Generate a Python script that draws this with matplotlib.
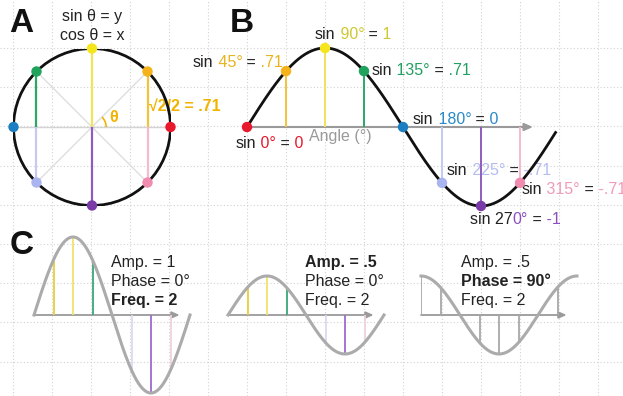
import numpy as np
import matplotlib
matplotlib.use("Agg")
import matplotlib.pyplot as plt
from matplotlib.patches import Circle, Arc

plt.rcParams['font.family'] = ['Liberation Sans', 'DejaVu Sans']

# ---------------- data ----------------
ANGLES = [0, 45, 90, 135, 180, 225, 270, 315]
POINT_COLORS = ['#e8192c', '#f5b21a', '#f5e61c', '#1fa35c', '#1b7ec2', '#aab4f0', '#7a3aa8', '#f08cb0']
LINE_COLORS = ['#e8192c', '#f2c33a', '#f0e45a', '#2aa866', '#1b7ec2', '#c6caf2', '#8e5cc0', '#f2bccf']
C_LINE_COLORS = ['#aaaaaa', '#e8cf3a', '#efe46a', '#3aa878', '#aaaaaa', '#dcdaf2', '#9a6ccc', '#f0d2dd']
C_AMPS = [1, 0.5, 0.5]
C_PHASES = [0, 0, 90]
C_FREQS = [2, 2, 2]

W, H = 623, 396
fig = plt.figure(figsize=(W / 100, H / 100), dpi=100)

# background grid
bg = fig.add_axes([0, 0, 1, 1])
bg.set_xlim(0, W)
bg.set_ylim(H, 0)
bg.set_xticks(np.arange(13, W, 39))
bg.set_yticks(np.arange(48, H, 39.2))
bg.grid(True, color='#d2d2d2', linestyle=(0, (1, 2)), lw=0.8)
bg.tick_params(length=0, labelbottom=False, labelleft=False)
for s in bg.spines.values():
    s.set_visible(False)

TXT = '#222222'
GRAY = '#9a9a9a'


def px_axes(x0, y0, x1, y1, xlim, ylim):
    ax = fig.add_axes([x0 / W, 1 - y1 / H, (x1 - x0) / W, (y1 - y0) / H])
    ax.set_xlim(*xlim)
    ax.set_ylim(*ylim)
    ax.axis('off')
    ax.patch.set_alpha(0)
    return ax


def ctext(x, y, segs, size=11.5, weight='normal'):
    prev = bg.text(x, y, segs[0][0], color=segs[0][1], fontsize=size,
                   va='baseline', ha='left', fontweight=weight)
    for s, c in segs[1:]:
        prev = bg.annotate(s, xy=(1, 0), xycoords=prev, va='bottom', ha='left',
                           color=c, fontsize=size, fontweight=weight)
    return prev


rad = np.radians(ANGLES)

# ---------------- Panel A ----------------
axA = px_axes(92 - 78.5, 127 - 78.5, 92 + 78.5, 127 + 78.5, (-1, 1), (-1, 1))
c45 = np.cos(np.radians(45))
axA.plot([-c45, c45], [-c45, c45], color='#dedede', lw=1, zorder=1)
axA.plot([-c45, c45], [c45, -c45], color='#dedede', lw=1, zorder=1)
axA.plot([-1, 1], [0, 0], color='#d4d4d4', lw=1, zorder=1)
axA.vlines(np.cos(rad), 0, np.sin(rad), colors=LINE_COLORS, lw=1.6, zorder=2)
axA.add_patch(Circle((0, 0), 1, fill=False, lw=2, color='#111111', zorder=3))
axA.add_patch(Arc((0, 0), 0.36, 0.36, theta1=0, theta2=45, color='#f0b400', lw=1.2, zorder=3))
axA.scatter(np.cos(rad), np.sin(rad), s=42, c=POINT_COLORS, zorder=4, clip_on=False)

bg.text(21, 23, 'A', fontsize=24, fontweight='bold', ha='center', va='center', color='#111111')
bg.text(92, 16, 'sin θ = y', fontsize=11.5, ha='center', va='center', color=TXT)
bg.text(92, 36, 'cos θ = x', fontsize=11.5, ha='center', va='center', color=TXT)
bg.text(114, 118, 'θ', fontsize=11.5, ha='center', va='center', color='#f0b400', fontweight='bold')
bg.text(149, 106, '√2/2 = .71', fontsize=11.5, ha='left', va='center', color='#f0b400', fontweight='bold')

# ---------------- Panel B ----------------
axB = px_axes(247, 48, 559, 206, (0, 360), (-1, 1))
xs = np.linspace(0, 356, 400)
axB.annotate('', xy=(330, 0), xytext=(0, 0), annotation_clip=False,
             arrowprops=dict(arrowstyle='-|>,head_length=0.5,head_width=0.22', color=GRAY, lw=1.5,
                             shrinkA=0, shrinkB=0), zorder=1)
axB.vlines(ANGLES, 0, np.sin(rad), colors=LINE_COLORS, lw=1.4, zorder=2)
axB.plot(xs, np.sin(np.radians(xs)), color='#111111', lw=2, zorder=3, clip_on=False)
axB.scatter(ANGLES, np.sin(rad), s=42, c=POINT_COLORS, zorder=4, clip_on=False)

bg.text(242, 23, 'B', fontsize=24, fontweight='bold', ha='center', va='center', color='#111111')
bg.text(340, 137, 'Angle (°)', fontsize=11.5, ha='center', va='center', color=GRAY)

ctext(315, 39, [('sin', TXT), (' 90°', '#cfc832'), (' =', TXT), (' 1', '#cfc832')])
ctext(193, 67, [('sin', TXT), (' 45°', '#e8b41e'), (' =', TXT), (' .71', '#e8b41e')])
ctext(372, 75, [('sin', TXT), (' 135°', '#22a060'), (' =', TXT), (' .71', '#22a060')])
ctext(413, 124, [('sin', TXT), (' 180°', '#2a8ac8'), (' =', TXT), (' 0', '#2a8ac8')])
ctext(447, 175, [('sin', TXT), (' 225°', '#b4bcf0'), (' =', TXT), (' -.71', '#b4bcf0')])
ctext(522, 194, [('sin', TXT), (' 315°', '#f09ab8'), (' =', TXT), (' -.71', '#f09ab8')])
ctext(470, 224, [('sin 27', TXT), ('0°', '#8a50c0'), (' =', TXT), (' -1', '#8a50c0')])
ctext(236, 148, [('sin', TXT), (' 0°', '#e8192c'), (' =', TXT), (' 0', '#e8192c')])

# ---------------- Panel C ----------------
bg.text(22, 246, 'C', fontsize=24, fontweight='bold', ha='center', va='center', color='#111111')
C_X0 = [34, 228, 421]
C_TEXT_X = [111, 305, 461]
C_BOLD = [2, 0, 1]
xc = np.linspace(0, 360, 400)
for i in range(3):
    amp, ph = C_AMPS[i], C_PHASES[i]
    ax = px_axes(C_X0[i], 315 - 78, C_X0[i] + 156, 315 + 78, (0, 360), (-1, 1))
    ax.annotate('', xy=(336, 0), xytext=(0, 0), annotation_clip=False,
                arrowprops=dict(arrowstyle='-|>,head_length=0.45,head_width=0.2', color=GRAY, lw=1.3,
                                shrinkA=0, shrinkB=0), zorder=1)
    vals = amp * np.sin(np.radians(np.array(ANGLES) + ph))
    keep = np.abs(vals) > 1e-6
    cols = C_LINE_COLORS if ph == 0 else ['#a8a8a8'] * len(ANGLES)
    ax.vlines(np.array(ANGLES)[keep], 0, vals[keep], colors=np.array(cols)[keep], lw=1.3, zorder=2)
    ax.plot(xc, amp * np.sin(np.radians(xc + ph)), color='#ababab', lw=2.2, zorder=3, clip_on=False)
    lines = [f'Amp. = {"1" if amp == 1 else ".5"}', f'Phase = {ph}°', f'Freq. = {C_FREQS[i]}']
    for j, t in enumerate(lines):
        bg.text(C_TEXT_X[i], 262 + j * 19.5, t, fontsize=11.5, ha='left', va='center', color=TXT,
                fontweight='bold' if j == C_BOLD[i] else 'normal')

fig.savefig('out.png', dpi=100)
